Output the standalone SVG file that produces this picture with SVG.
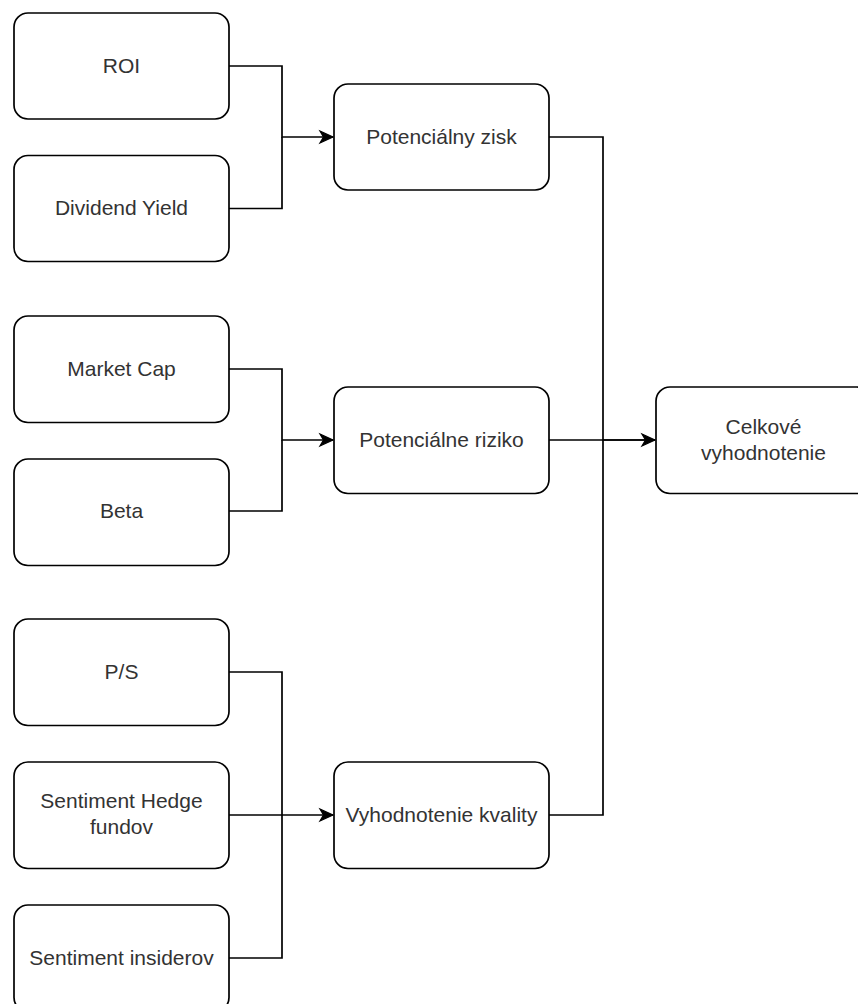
<svg xmlns="http://www.w3.org/2000/svg" width="858" height="1004" viewBox="0 0 858 1004">
<defs>
<style>
.box{fill:#fff;stroke:#000;stroke-width:1.7}
.t{font-family:"Liberation Sans",Arial,sans-serif;font-size:21px;fill:#333;text-anchor:middle}
.c{fill:none;stroke:#000;stroke-width:1.7}
</style>
<marker id="arr" markerUnits="userSpaceOnUse" markerWidth="18" markerHeight="16" refX="15" refY="8" orient="auto">
<path d="M2,2 L15,8 L2,14 L5.5,8 Z" fill="#000" stroke="#000" stroke-width="1.2" stroke-linejoin="miter"/>
</marker>
</defs>
<rect width="858" height="1004" fill="#fff"/>
<g id="connectors">
<path class="c" d="M229,66 H282 V137 H333" marker-end="url(#arr)"/>
<path class="c" d="M229,208.5 H282 V137"/>
<path class="c" d="M229,369 H282 V440 H333" marker-end="url(#arr)"/>
<path class="c" d="M229,511 H282 V440"/>
<path class="c" d="M229,672 H282 V815"/>
<path class="c" d="M229,815 H333" marker-end="url(#arr)"/>
<path class="c" d="M229,958 H282 V815"/>
<path class="c" d="M549,137 H603 V440 H655" marker-end="url(#arr)"/>
<path class="c" d="M549,440 H655"/>
<path class="c" d="M549,815 H603 V440"/>
</g>
<g id="roi"><rect class="box" x="14" y="13" width="215" height="106" rx="14"/><text class="t" x="121.5" y="73">ROI</text></g>
<g id="dividend"><rect class="box" x="14" y="155.5" width="215" height="106" rx="14"/><text class="t" x="121.5" y="215">Dividend Yield</text></g>
<g id="marketcap"><rect class="box" x="14" y="316" width="215" height="106.5" rx="14"/><text class="t" x="121.5" y="376">Market Cap</text></g>
<g id="beta"><rect class="box" x="14" y="459" width="215" height="106.5" rx="14"/><text class="t" x="121.5" y="518">Beta</text></g>
<g id="ps"><rect class="box" x="14" y="619" width="215" height="106.5" rx="14"/><text class="t" x="121.5" y="679">P/S</text></g>
<g id="hedge"><rect class="box" x="14" y="762" width="215" height="106.5" rx="14"/><text class="t" x="121.5" y="808">Sentiment Hedge</text><text class="t" x="121.5" y="834">fundov</text></g>
<g id="insiderov"><rect class="box" x="14" y="905" width="215" height="106.5" rx="14"/><text class="t" x="121.5" y="965">Sentiment insiderov</text></g>
<g id="zisk"><rect class="box" x="334" y="84" width="215" height="106" rx="14"/><text class="t" x="441.5" y="144">Potenciálny zisk</text></g>
<g id="riziko"><rect class="box" x="334" y="387" width="215" height="106.5" rx="14"/><text class="t" x="441.5" y="447">Potenciálne riziko</text></g>
<g id="kvalita"><rect class="box" x="334" y="762" width="215" height="106.5" rx="14"/><text class="t" x="441.5" y="822">Vyhodnotenie kvality</text></g>
<g id="celkove"><rect class="box" x="656" y="387" width="215" height="106.5" rx="14"/><text class="t" x="763.5" y="434">Celkové</text><text class="t" x="763.5" y="460">vyhodnotenie</text></g>
</svg>
